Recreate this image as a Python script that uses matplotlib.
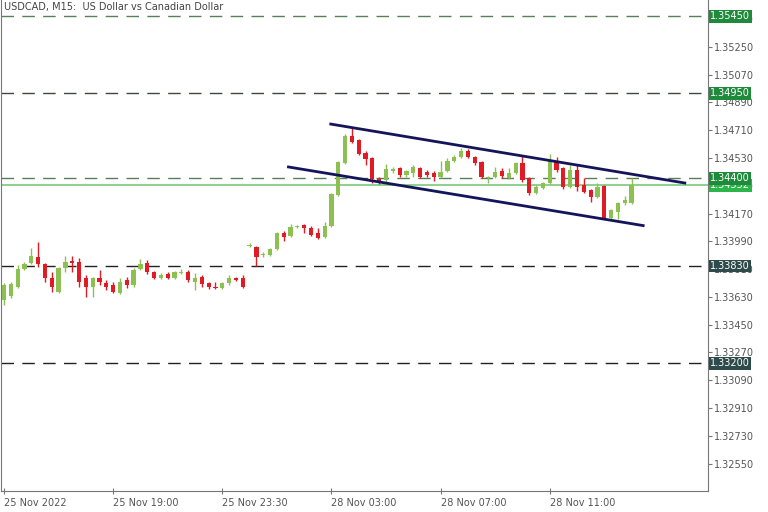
import matplotlib.pyplot as plt
from matplotlib.transforms import blended_transform_factory

# USDCAD M15 candles, 25 Nov 2022 - 28 Nov 2022
opens = [1.33610, 1.33636, 1.33694, 1.33811, 1.33850, 1.33889, 1.33843, 1.33752, 1.33662, 1.33817,
         1.33863, 1.33856, 1.33752, 1.33694, 1.33752, 1.33720, 1.33707, 1.33655, 1.33740, 1.33707,
         1.33811, 1.33850, 1.33791, 1.33752, 1.33778, 1.33752, 1.33785, 1.33791, 1.33727, 1.33759,
         1.33720, 1.33694, 1.33688, 1.33720, 1.33752, 1.33752, 1.33960, 1.33954, 1.33902, 1.33902,
         1.33941, 1.34044, 1.34025, 1.34083, 1.34096, 1.34077, 1.34044, 1.34018, 1.34090, 1.34290,
         1.34498, 1.34673, 1.34647, 1.34563, 1.34530, 1.34394, 1.34388, 1.34446, 1.34465, 1.34420,
         1.34433, 1.34465, 1.34439, 1.34433, 1.34407, 1.34446, 1.34511, 1.34537, 1.34576, 1.34537,
         1.34504, 1.34401, 1.34407, 1.34446, 1.34401, 1.34433, 1.34498, 1.34401, 1.34303, 1.34336,
         1.34368, 1.34511, 1.34465, 1.34342, 1.34452, 1.34355, 1.34323, 1.34278, 1.34349, 1.34141,
         1.34180, 1.34239, 1.34239]
highs = [1.33720, 1.33727, 1.33837, 1.33856, 1.33947, 1.33986, 1.33850, 1.33791, 1.33824, 1.33895,
         1.33895, 1.33882, 1.33772, 1.33759, 1.33804, 1.33740, 1.33727, 1.33752, 1.33759, 1.33817,
         1.33876, 1.33869, 1.33798, 1.33785, 1.33791, 1.33798, 1.33811, 1.33804, 1.33785, 1.33772,
         1.33727, 1.33727, 1.33727, 1.33772, 1.33759, 1.33772, 1.33980, 1.33960, 1.33921, 1.33947,
         1.34051, 1.34057, 1.34103, 1.34096, 1.34103, 1.34090, 1.34077, 1.34116, 1.34303, 1.34511,
         1.34686, 1.34731, 1.34654, 1.34576, 1.34537, 1.34407, 1.34491, 1.34472, 1.34472, 1.34452,
         1.34485, 1.34472, 1.34452, 1.34446, 1.34511, 1.34530, 1.34550, 1.34595, 1.34589, 1.34543,
         1.34511, 1.34414, 1.34472, 1.34465, 1.34465, 1.34504, 1.34550, 1.34407, 1.34355, 1.34375,
         1.34556, 1.34537, 1.34472, 1.34485, 1.34485, 1.34401, 1.34329, 1.34368, 1.34355, 1.34200,
         1.34245, 1.34284, 1.34401]
lows = [1.33578, 1.33623, 1.33688, 1.33804, 1.33843, 1.33824, 1.33727, 1.33662, 1.33655, 1.33791,
        1.33791, 1.33694, 1.33630, 1.33630, 1.33707, 1.33675, 1.33655, 1.33649, 1.33688, 1.33694,
        1.33804, 1.33778, 1.33746, 1.33746, 1.33746, 1.33746, 1.33778, 1.33727, 1.33675, 1.33694,
        1.33681, 1.33681, 1.33681, 1.33707, 1.33733, 1.33688, 1.33954, 1.33830, 1.33889, 1.33895,
        1.33934, 1.33993, 1.34018, 1.34077, 1.34044, 1.34025, 1.34005, 1.34012, 1.34083, 1.34284,
        1.34491, 1.34627, 1.34550, 1.34485, 1.34368, 1.34362, 1.34375, 1.34433, 1.34407, 1.34407,
        1.34407, 1.34401, 1.34407, 1.34381, 1.34401, 1.34439, 1.34504, 1.34530, 1.34530, 1.34485,
        1.34401, 1.34368, 1.34401, 1.34401, 1.34394, 1.34426, 1.34375, 1.34290, 1.34297, 1.34329,
        1.34362, 1.34439, 1.34329, 1.34336, 1.34316, 1.34303, 1.34245, 1.34271, 1.34135, 1.34135,
        1.34135, 1.34226, 1.34232]
closes = [1.33707, 1.33714, 1.33811, 1.33843, 1.33895, 1.33843, 1.33752, 1.33694, 1.33817, 1.33856,
          1.33850, 1.33727, 1.33694, 1.33752, 1.33727, 1.33694, 1.33662, 1.33727, 1.33707, 1.33804,
          1.33843, 1.33791, 1.33752, 1.33772, 1.33752, 1.33791, 1.33791, 1.33740, 1.33752, 1.33714,
          1.33694, 1.33688, 1.33720, 1.33752, 1.33740, 1.33694, 1.33967, 1.33889, 1.33908, 1.33941,
          1.34044, 1.34018, 1.34083, 1.34090, 1.34077, 1.34031, 1.34012, 1.34090, 1.34297, 1.34504,
          1.34673, 1.34634, 1.34556, 1.34524, 1.34394, 1.34381, 1.34459, 1.34459, 1.34420, 1.34446,
          1.34472, 1.34407, 1.34420, 1.34407, 1.34439, 1.34511, 1.34537, 1.34576, 1.34537, 1.34498,
          1.34407, 1.34407, 1.34439, 1.34414, 1.34433, 1.34498, 1.34388, 1.34303, 1.34342, 1.34368,
          1.34517, 1.34452, 1.34342, 1.34452, 1.34342, 1.34310, 1.34278, 1.34342, 1.34141, 1.34193,
          1.34239, 1.34258, 1.34352]

tick_idx = [0, 16, 32, 48, 64, 80]
tick_labels = ["25 Nov 2022", "25 Nov 19:00", "25 Nov 23:30", "28 Nov 03:00", "28 Nov 07:00", "28 Nov 11:00"]
price_ticks = [1.35430, 1.35250, 1.35070, 1.34890, 1.34710, 1.34530, 1.34350, 1.34170, 1.33990,
               1.33810, 1.33630, 1.33450, 1.33270, 1.33090, 1.32910, 1.32730, 1.32550]

# horizontal levels: (price, line colour, label box colour)
levels = [(1.35450, "#5a7d5a", "#1f8a3b"), (1.34950, "#3c4a3c", "#1f8a3b"),
          (1.34400, "#5a7d5a", "#1f8a3b"), (1.33830, "#222222", "#2e4a4a"),
          (1.33200, "#222222", "#2e4a4a")]
bid = 1.34352

# channel lines (bar index, price)
upper_line = ([47.9, 99.8], [1.34750, 1.34368])
lower_line = ([41.7, 93.7], [1.34472, 1.34092])

up_col = "#8cc152"
dn_col = "#e01b24"

fig = plt.figure(figsize=(7.68, 5.12), dpi=100)
ax = fig.add_axes([1 / 768, 21 / 512, 707 / 768, 491 / 512])

for i in range(len(opens)):
    o, h, l, c = opens[i], highs[i], lows[i], closes[i]
    col = up_col if c >= o else dn_col
    ax.vlines(i, l, h, color=col, lw=1, zorder=3)
    ax.bar(i, max(abs(c - o), 0.000012), bottom=min(o, c), width=0.62, color=col, lw=0, zorder=4)

for p, lc, bc in levels:
    ax.axhline(p, color=lc, lw=1, ls=(0, (9, 6)), zorder=2)
ax.axhline(bid, color="#79c879", lw=1.2, zorder=2)

ax.plot(*upper_line, color="#14145a", lw=2, zorder=5)
ax.plot(*lower_line, color="#14145a", lw=2, zorder=5)

ax.set_xlim(-0.44, 103.2)
ax.set_ylim(1.32372, 1.35554)

ax.yaxis.tick_right()
ax.set_yticks(price_ticks)
ax.set_yticklabels(["%.5f" % t for t in price_ticks])
ax.tick_params(axis="y", length=3, width=0.8, color="#777777", labelsize=7, labelcolor="#555555", pad=1)
ax.set_xticks(tick_idx)
ax.set_xticklabels(tick_labels, ha="left")
ax.tick_params(axis="x", length=4, width=0.8, direction="inout", color="#777777", labelsize=7,
               labelcolor="#555555", pad=3)

for s in ["top"]:
    ax.spines[s].set_visible(False)
for s in ["left", "right", "bottom"]:
    ax.spines[s].set_color("#777777")
    ax.spines[s].set_linewidth(0.8)

tr = blended_transform_factory(ax.transAxes, ax.transData)
for p, lc, bc in levels:
    ax.text(1.003, p, "%.5f" % p, transform=tr, ha="left", va="center", fontsize=7, color="white",
            bbox=dict(boxstyle="square,pad=0.15", fc=bc, ec="none"), zorder=10, clip_on=False)
ax.text(1.003, bid, "%.5f" % bid, transform=tr, ha="left", va="center", fontsize=7, color="white",
        bbox=dict(boxstyle="square,pad=0.15", fc="#2bb54b", ec="none"), zorder=9, clip_on=False)

ax.text(0.004, 0.985, "USDCAD, M15:  US Dollar vs Canadian Dollar", transform=ax.transAxes,
        ha="left", va="center", fontsize=7, color="#444444")

fig.savefig("out.png", dpi=100)
